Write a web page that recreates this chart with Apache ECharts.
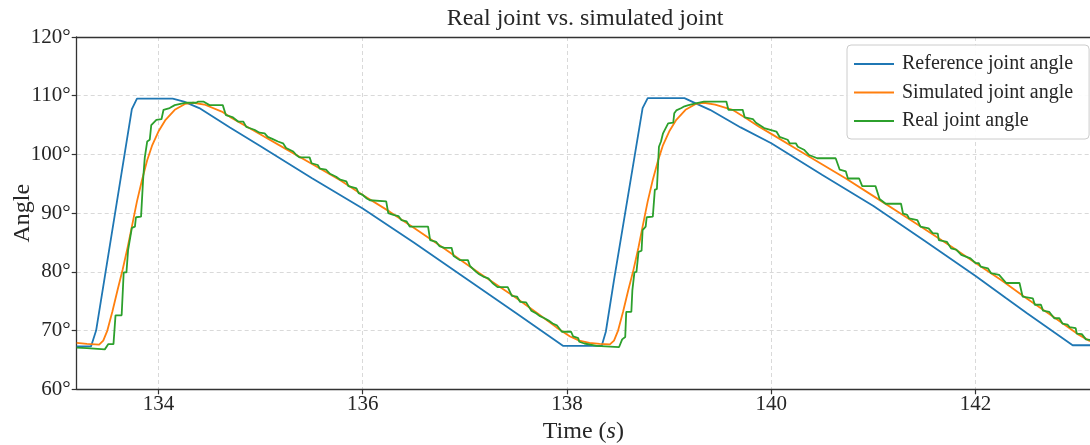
<!DOCTYPE html>
<html>
<head>
<meta charset="utf-8">
<script src="https://cdn.jsdelivr.net/npm/echarts@6/dist/echarts.min.js"></script>
<style>
html,body{margin:0;padding:0;background:#fff;}
#chart{width:1090px;height:445px;}
</style>
</head>
<body>
<div id="chart"></div>
<script>
var xTicks = [134, 136, 138, 140, 142];
var yTicks = [60, 70, 80, 90, 100, 110, 120];
var seriesNames = ['Reference joint angle', 'Simulated joint angle', 'Real joint angle'];

var referenceAngle = [
  [133.2,67.3],[133.34,67.3],[133.39,70.0],[133.74,107.7],[133.79,109.5],[134.14,109.5],
  [134.25,109.0],[134.4,107.9],[134.7,104.6],[135.0,101.4],[135.5,96.0],[136.0,90.8],
  [136.5,85.0],[137.0,79.0],[137.5,73.0],[137.96,67.4],[138.34,67.4],[138.38,69.8],
  [138.46,78.6],[138.74,107.9],[138.79,109.6],[139.15,109.6],[139.26,108.7],[139.4,107.6],
  [139.7,104.6],[140.0,101.9],[140.5,96.5],[141.0,91.2],[141.5,85.3],[142.0,79.3],
  [142.3,75.5],[142.5,73.0],[142.95,67.5],[143.12,67.5]
];

var simulatedAngle = [
  [133.2,67.9],[133.3,67.75],[133.42,67.6],[133.46,68.3],[133.50,70.0],[133.55,73.3],
  [133.60,76.9],[133.65,80.4],[133.70,84.3],[133.74,87.7],[133.79,92.0],[133.84,95.7],
  [133.89,99.0],[133.94,101.6],[134.0,103.9],[134.07,105.9],[134.16,107.6],[134.26,108.6],
  [134.34,108.8],[134.45,108.5],[134.62,107.3],[134.70,106.4],[134.88,104.6],[135.0,103.4],
  [135.25,100.9],[135.5,98.4],[135.78,95.6],[136.0,93.1],[136.26,90.3],[136.5,87.5],
  [136.78,84.2],[137.14,79.8],[137.5,75.6],[137.73,72.7],[137.9,70.5],[138.03,69.0],
  [138.12,68.3],[138.22,67.9],[138.32,67.75],[138.42,67.65],[138.46,68.3],[138.50,70.0],
  [138.55,73.3],[138.60,76.9],[138.65,80.3],[138.70,84.2],[138.74,87.7],[138.79,92.0],
  [138.84,95.7],[138.89,98.9],[138.94,101.6],[139.0,103.9],[139.07,105.9],[139.16,107.6],
  [139.26,108.6],[139.34,108.8],[139.45,108.5],[139.62,107.6],[139.75,106.2],[139.88,104.7],
  [140.0,103.5],[140.25,100.9],[140.5,98.3],[140.73,95.9],[141.0,92.9],[141.25,90.1],
  [141.5,87.3],[141.78,84.1],[142.0,81.5],[142.25,78.6],[142.49,75.6],[142.75,72.5],
  [143.0,69.4],[143.12,68.2]
];

var realAngle = [
  [133.2,67.1],[133.3,67.0],[133.475,66.8],[133.51,67.7],[133.56,67.7],[133.58,72.6],
  [133.64,72.6],[133.66,79.9],[133.687,79.9],[133.703,83.7],[133.74,87.5],[133.77,87.7],
  [133.78,89.3],[133.83,89.4],[133.85,95.7],[133.866,99.4],[133.89,102.2],[133.915,102.5],
  [133.93,105.0],[133.98,105.9],[134.03,106.0],[134.05,107.6],[134.11,107.9],[134.16,108.4],
  [134.26,108.8],[134.37,108.8],[134.39,109.0],[134.44,109.0],[134.50,108.4],[134.63,108.4],
  [134.66,106.7],[134.70,106.5],[134.73,106.3],[134.78,105.6],[134.83,105.6],[134.86,104.7],
  [134.89,104.5],[134.94,104.2],[134.99,103.7],[135.04,103.6],[135.07,103.0],[135.12,102.6],
  [135.17,102.2],[135.22,101.9],[135.25,101.1],[135.32,100.5],[135.35,99.9],[135.38,99.5],
  [135.48,99.5],[135.50,98.5],[135.56,98.2],[135.58,97.6],[135.64,97.4],[135.68,96.7],
  [135.74,96.2],[135.78,95.7],[135.84,95.4],[135.86,94.6],[135.94,94.2],[135.96,93.4],
  [136.00,93.1],[136.04,92.5],[136.07,92.2],[136.08,92.0],[136.23,92.0],[136.25,90.0],
  [136.30,89.7],[136.35,89.5],[136.38,88.8],[136.43,88.6],[136.46,87.7],[136.64,87.7],
  [136.66,85.4],[136.72,85.1],[136.75,84.4],[136.80,84.1],[136.87,84.1],[136.89,82.7],
  [136.95,82.0],[137.03,82.0],[137.05,81.0],[137.11,80.0],[137.14,79.6],[137.18,79.2],
  [137.23,78.9],[137.27,78.1],[137.32,77.4],[137.42,77.4],[137.46,75.9],[137.51,75.8],
  [137.54,74.9],[137.60,74.8],[137.65,73.4],[137.70,72.9],[137.73,72.5],[137.78,72.1],
  [137.82,71.7],[137.86,71.2],[137.90,70.9],[137.95,69.8],[138.04,69.8],[138.06,69.0],
  [138.11,68.7],[138.12,68.1],[138.17,67.8],[138.29,67.4],[138.51,67.2],[138.54,68.5],
  [138.57,68.9],[138.58,73.2],[138.63,73.2],[138.64,76.9],[138.66,79.9],[138.68,80.0],
  [138.70,83.4],[138.73,83.6],[138.74,87.1],[138.77,87.7],[138.78,89.3],[138.84,89.4],
  [138.86,94.0],[138.88,94.1],[138.90,101.3],[138.92,102.2],[138.94,103.6],[138.95,103.9],
  [138.99,105.3],[139.04,105.4],[139.05,107.0],[139.07,107.5],[139.12,107.9],[139.15,108.2],
  [139.19,108.4],[139.26,108.7],[139.34,109.0],[139.56,109.0],[139.58,107.6],[139.72,107.6],
  [139.74,106.3],[139.82,106.0],[139.85,105.4],[139.93,104.5],[140.05,103.9],[140.08,103.0],
  [140.16,102.5],[140.18,101.9],[140.24,101.9],[140.26,101.3],[140.32,100.8],[140.37,99.9],
  [140.45,99.35],[140.63,99.35],[140.67,97.4],[140.73,97.1],[140.75,95.9],[140.86,95.9],
  [140.89,94.6],[141.02,94.6],[141.06,92.4],[141.12,91.6],[141.27,91.6],[141.29,89.9],
  [141.33,89.7],[141.35,89.1],[141.43,88.8],[141.46,87.7],[141.54,87.4],[141.58,86.6],
  [141.63,86.5],[141.64,85.4],[141.72,85.1],[141.76,84.0],[141.81,83.8],[141.86,82.9],
  [141.95,82.3],[142.0,81.5],[142.03,81.5],[142.05,80.9],[142.12,80.6],[142.15,79.8],
  [142.23,79.5],[142.30,78.1],[142.43,78.1],[142.46,75.8],[142.56,75.5],[142.58,74.4],
  [142.64,74.4],[142.66,73.4],[142.72,73.2],[142.77,72.1],[142.82,72.1],[142.85,71.2],
  [142.90,71.0],[142.92,70.6],[142.98,70.4],[142.99,69.5],[143.04,69.4],[143.08,68.5],
  [143.12,68.4]
];

var FONT = '"Liberation Serif", "DejaVu Serif", serif';
var TXT = '#262626';
var GRIDC = '#d9d9d9';
var XMIN = 133.2, XMAX = 143.12;

var chart = echarts.init(document.getElementById('chart'), null, {renderer: 'canvas'});

function lineSeries(name, data, color) {
  return {
    name: name, type: 'line', data: data, showSymbol: false, symbol: 'none',
    xAxisIndex: 0, yAxisIndex: 0,
    lineStyle: {color: color, width: 1.8}, itemStyle: {color: color},
    animation: false, silent: true, z: 2
  };
}

var option = {
  backgroundColor: '#fff',
  animation: false,
  title: {
    text: 'Real joint vs. simulated joint',
    left: 585, top: 7, textAlign: 'center', padding: 0,
    textStyle: {fontFamily: FONT, fontSize: 24, fontWeight: 'normal', color: TXT}
  },
  legend: {
    data: seriesNames,
    orient: 'vertical',
    left: 847, top: 45,
    padding: [9, 16, 8, 7],
    itemGap: 8.5,
    itemWidth: 40, itemHeight: 2,
    icon: 'rect',
    z: 10,
    backgroundColor: 'rgba(255,255,255,0.9)',
    borderColor: '#cccccc', borderWidth: 1, borderRadius: 4,
    textStyle: {fontFamily: FONT, fontSize: 20, color: TXT, padding: [0, 0, 0, 3]}
  },
  grid: {
    left: 76.7, right: 0, top: 37, bottom: 55.7,
    show: false,
    outerBoundsMode: 'none', containLabel: false
  },
  xAxis: [{
    type: 'value', min: XMIN, max: XMAX, position: 'bottom',
    name: 'Time ({i|s})', nameLocation: 'middle', nameGap: 30, nameMoveOverlap: false,
    nameTextStyle: {fontFamily: FONT, fontSize: 24, color: TXT,
      rich: {i: {fontFamily: FONT, fontSize: 24, fontStyle: 'italic', color: TXT}}},
    axisLine: {show: true, onZero: false, lineStyle: {color: '#333', width: 1.3}},
    axisTick: {show: true, inside: false, length: 5, customValues: xTicks, lineStyle: {color: '#333', width: 1.2}},
    axisLabel: {customValues: xTicks, margin: 5, fontFamily: FONT, fontSize: 21, color: TXT,
      formatter: function (v) { return String(v); }},
    splitLine: {show: true, customValues: xTicks, lineStyle: {color: GRIDC, type: [4, 3], width: 1}}
  }, {
    type: 'value', min: XMIN, max: XMAX, position: 'top',
    axisLine: {show: true, onZero: false, lineStyle: {color: '#333', width: 1.3}},
    axisTick: {show: false}, axisLabel: {show: false}, splitLine: {show: false},
    z: 4
  }],
  yAxis: {
    type: 'value', min: 60, max: 120, interval: 10,
    name: 'Angle', nameLocation: 'middle', nameGap: 42, nameMoveOverlap: false,
    nameTextStyle: {fontFamily: FONT, fontSize: 24, color: TXT},
    axisLine: {show: true, onZero: false, lineStyle: {color: '#333', width: 1.3}},
    axisTick: {show: true, inside: false, length: 5, lineStyle: {color: '#333', width: 1.2}},
    axisLabel: {margin: 6, fontFamily: FONT, fontSize: 21, color: TXT,
      formatter: function (v) { return v + '°'; }},
    splitLine: {show: true, lineStyle: {color: GRIDC, type: [4, 3], width: 1}}
  },
  series: [
    lineSeries(seriesNames[0], referenceAngle, '#1f77b4'),
    lineSeries(seriesNames[1], simulatedAngle, '#ff7f0e'),
    lineSeries(seriesNames[2], realAngle, '#2ca02c')
  ]
};
chart.setOption(option);
</script>
</body>
</html>
